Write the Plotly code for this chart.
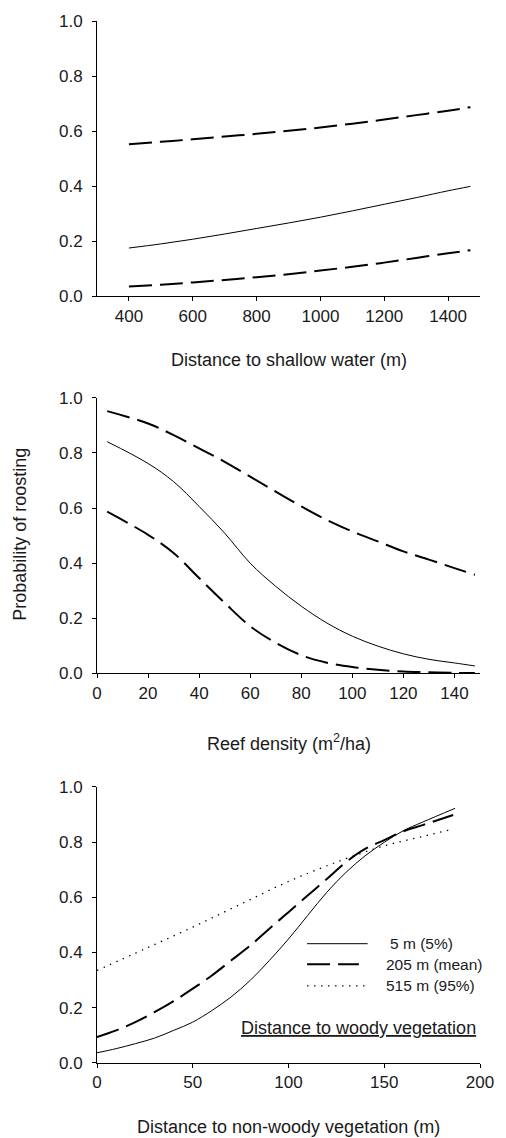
import plotly.graph_objects as go

# ---------------- data ----------------
# Panel 1: distance to shallow water
water_x = [400, 500, 600, 700, 800, 900, 1000, 1100, 1200, 1300, 1400, 1470]
water_mean = [0.175, 0.190, 0.207, 0.226, 0.246, 0.266, 0.287, 0.310, 0.334, 0.358, 0.383, 0.399]
water_upper = [0.552, 0.561, 0.570, 0.580, 0.590, 0.601, 0.613, 0.627, 0.642, 0.658, 0.674, 0.687]
water_lower = [0.035, 0.042, 0.050, 0.059, 0.069, 0.080, 0.093, 0.107, 0.122, 0.139, 0.156, 0.167]
water_ticks = [400, 600, 800, 1000, 1200, 1400]

# Panel 2: reef density
reef_x = [4, 20, 30, 40, 50, 60, 70, 80, 90, 100, 110, 120, 130, 140, 148]
reef_mean = [0.841, 0.762, 0.696, 0.606, 0.509, 0.400, 0.316, 0.244, 0.183, 0.135, 0.099, 0.071, 0.051, 0.038, 0.027]
reef_upper = [0.952, 0.907, 0.865, 0.817, 0.768, 0.714, 0.660, 0.606, 0.557, 0.515, 0.479, 0.443, 0.413, 0.382, 0.358]
reef_lower = [0.587, 0.503, 0.437, 0.346, 0.256, 0.171, 0.111, 0.066, 0.039, 0.023, 0.013, 0.007, 0.004, 0.002, 0.001]
reef_ticks = [0, 20, 40, 60, 80, 100, 120, 140]

# Panel 3: distance to non-woody vegetation, for three woody distances
veg5_x = [0, 10, 20, 30, 40, 50, 60, 70, 80, 90, 100, 110, 120, 130, 140, 150, 160, 170, 187]
veg5_y = [0.037, 0.052, 0.070, 0.090, 0.118, 0.148, 0.190, 0.239, 0.299, 0.371, 0.449, 0.534,
          0.618, 0.690, 0.750, 0.799, 0.841, 0.872, 0.922]
veg205_x = [0, 10, 20, 30, 40, 50, 60, 70, 80, 90, 100, 110, 120, 130, 140, 150, 160, 170, 186]
veg205_y = [0.094, 0.118, 0.148, 0.184, 0.224, 0.269, 0.317, 0.371, 0.425, 0.486, 0.546, 0.606,
            0.666, 0.727, 0.775, 0.807, 0.839, 0.861, 0.898]
veg515_x = [0, 25, 50, 75, 100, 125, 150, 170, 186]
veg515_y = [0.335, 0.413, 0.492, 0.575, 0.657, 0.727, 0.786, 0.820, 0.847]
veg_ticks = [0, 50, 100, 150, 200]

legend_labels = ["5 m (5%)", "205 m (mean)", "515 m (95%)"]

y_ticks = [0.0, 0.2, 0.4, 0.6, 0.8, 1.0]

# ---------------- styles ----------------
FONT = "Arial, Liberation Sans, Helvetica, sans-serif"
TXT = "#1a1a1a"
DASH = "23px,8px"
DOT = "1.4px,5.6px"

fig = go.Figure()

def add(x, y, xa, ya, dash, width):
    fig.add_trace(go.Scatter(
        x=x, y=y, xaxis=xa, yaxis=ya, mode="lines",
        line=dict(color="black", width=width, dash=dash, shape="spline", smoothing=1),
        showlegend=False, hoverinfo="skip"))

add(water_x, water_upper, "x", "y", DASH, 2)
add(water_x, water_mean, "x", "y", "solid", 1)
add(water_x, water_lower, "x", "y", DASH, 2)

add(reef_x, reef_upper, "x2", "y2", DASH, 2)
add(reef_x, reef_mean, "x2", "y2", "solid", 1)
add(reef_x, reef_lower, "x2", "y2", DASH, 2)

add(veg5_x, veg5_y, "x3", "y3", "solid", 1)
add(veg205_x, veg205_y, "x3", "y3", DASH, 2)
add(veg515_x, veg515_y, "x3", "y3", DOT, 1.3)

axis_common = dict(
    showgrid=False, zeroline=False, showline=True, linecolor="black", linewidth=1,
    ticks="outside", ticklen=4, tickwidth=1, tickcolor="black",
    tickfont=dict(family=FONT, size=17, color=TXT),
)

fig.update_layout(
    width=506, height=1138,
    margin=dict(l=97, r=17, t=18, b=75),
    paper_bgcolor="white", plot_bgcolor="white",
    font=dict(family=FONT, color=TXT),
    xaxis=dict(axis_common, range=[300, 1500], tickvals=water_ticks, anchor="y", domain=[0, 1]),
    yaxis=dict(axis_common, range=[0, 1], tickvals=y_ticks, tickformat=".1f",
               domain=[0.7359, 1.0], anchor="x", ticklabelstandoff=6),
    xaxis2=dict(axis_common, range=[0, 150], tickvals=reef_ticks, anchor="y2", domain=[0, 1]),
    yaxis2=dict(axis_common, range=[0, 1], tickvals=y_ticks, tickformat=".1f",
                domain=[0.3739, 0.6383], anchor="x2", ticklabelstandoff=6),
    xaxis3=dict(axis_common, range=[0, 200], tickvals=veg_ticks, anchor="y3", domain=[0, 1]),
    yaxis3=dict(axis_common, range=[0, 1], tickvals=y_ticks, tickformat=".1f",
                domain=[0, 0.2651], anchor="x3", ticklabelstandoff=6),
)

def ann(text, x, y, size=18, xanchor="center", angle=0):
    fig.add_annotation(text=text, x=x, y=y, xref="paper", yref="paper",
                       xanchor=xanchor, yanchor="middle", showarrow=False, textangle=angle,
                       font=dict(family=FONT, size=size, color=TXT))

ann("Distance to shallow water (m)", 0.5, 0.6746)
ann("Reef density (m<sup>2</sup>/ha)", 0.5, 0.3072)
ann("Distance to non-woody vegetation (m)", 0.5, -0.061)
ann("Probability of roosting", -0.2015, 0.5077, angle=-90)
ann("<u>Distance to woody vegetation</u>", 0.6837, 0.0335)

# legend (manual, inside panel 3)
leg_y = [0.1145, 0.0947, 0.0740]
leg_styles = [("solid", 1, 0.7066), (DASH, 2, 0.6837), (DOT, 1.3, 0.7066)]
leg_text_x = [0.760, 0.750, 0.750]
for lab, yy, (ds, w, x1), tx in zip(legend_labels, leg_y, leg_styles, leg_text_x):
    fig.add_shape(type="line", xref="paper", yref="paper", x0=0.5485, x1=x1, y0=yy, y1=yy,
                  line=dict(color="black", width=w, dash=ds))
    ann(lab, tx, yy, size=15.5, xanchor="left")

fig.write_html("out.html",
               config={"displayModeBar": False},
               post_script="document.body.style.margin='0';document.body.style.padding='0';"
                           "window.dispatchEvent(new Event('resize'));")
